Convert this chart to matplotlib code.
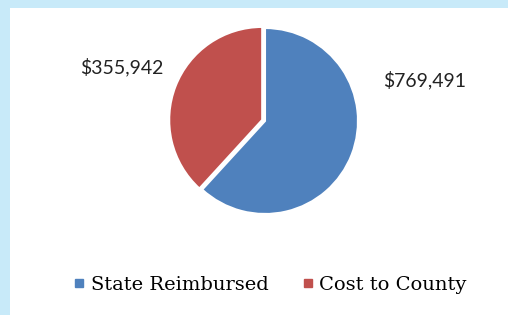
import matplotlib.pyplot as plt
from matplotlib.lines import Line2D

labels = ['State Reimbursed', 'Cost to County']
amounts = [769491, 355942]
# slice sizes as drawn in the original chart (percent of the circle)
shares = [61.8, 38.2]
colors = ['#4F81BD', '#C0504D']

W, H = 508, 315
fig = plt.figure(figsize=(W / 100, H / 100), dpi=100)
fig.patch.set_facecolor('#C8EAF9')
# white chart panel
bg = fig.add_axes([10 / W, 0, 1 - 10 / W, 1 - 8 / H], zorder=-1)
bg.set_facecolor('white')
bg.set_xticks([])
bg.set_yticks([])
for s in bg.spines.values():
    s.set_visible(False)

cx, cy, half = 265, 121, 100
ax = fig.add_axes([(cx - half) / W, (H - cy - half) / H, 2 * half / W, 2 * half / H], zorder=1)

wedges, _ = ax.pie(shares, colors=colors, startangle=90, counterclock=False,
                   radius=0.93, explode=[0, 0.03],
                   wedgeprops=dict(edgecolor='white', linewidth=1.5))
ax.set_xlim(-1, 1)
ax.set_ylim(-1, 1)
ax.set_aspect('equal')
ax.axis('off')

lab_pos = [(1.60, 0.41), (-1.43, 0.54)]
for v, (x, y) in zip(amounts, lab_pos):
    ax.text(x, y, '${:,}'.format(v), ha='center', va='center', fontsize=14,
            family='Lato', color='#222222', clip_on=False)

handles = [Line2D([], [], marker='s', linestyle='none', markersize=6,
                  markerfacecolor=c, markeredgecolor=c) for c in colors]
fig.legend(handles, labels, loc='center', bbox_to_anchor=(0.53, 0.095), ncol=2,
           frameon=False, prop=dict(family='DejaVu Serif', size=14),
           handletextpad=0.2, columnspacing=1.6, handlelength=0.8)

fig.savefig('out.png', dpi=100, facecolor=fig.get_facecolor())
